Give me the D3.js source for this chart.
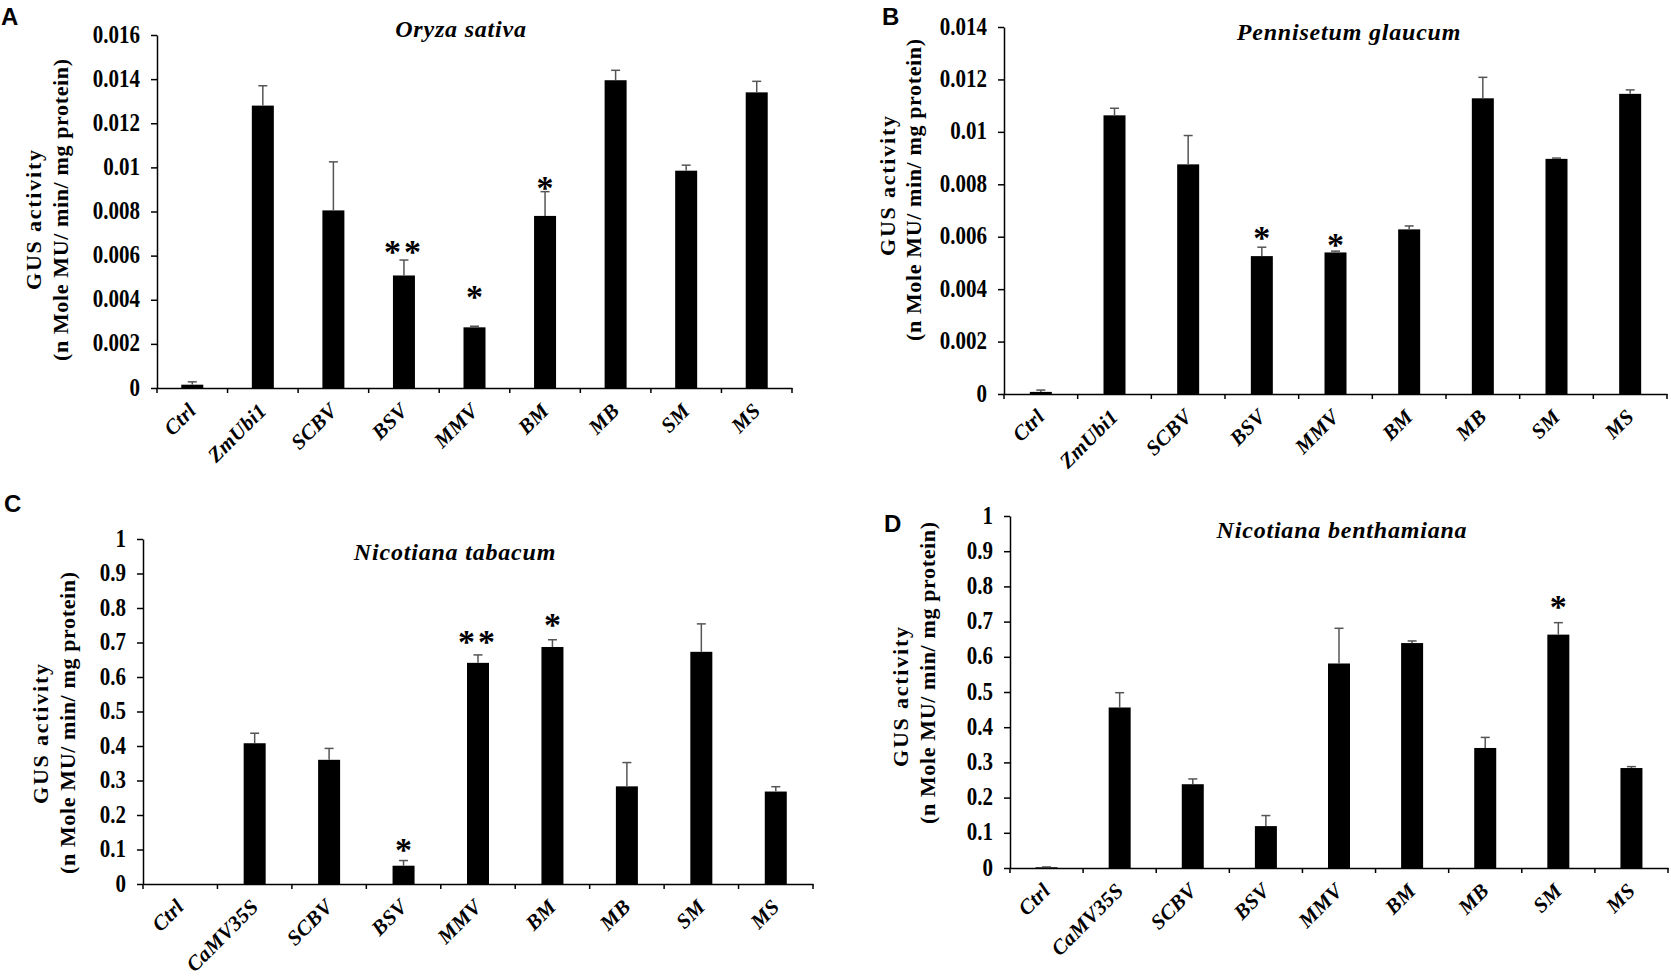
<!DOCTYPE html>
<html>
<head>
<meta charset="utf-8">
<script src="https://cdn.jsdelivr.net/npm/d3@7"></script>
<style>
  body { margin: 0; background: #fff; }
  svg { display: block; }
</style>
</head>
<body>
<div id="chart"></div>
<script>
// categories
const catsAB = ["Ctrl", "ZmUbi1", "SCBV", "BSV", "MMV", "BM", "MB", "SM", "MS"];
const catsCD = ["Ctrl", "CaMV35S", "SCBV", "BSV", "MMV", "BM", "MB", "SM", "MS"];

// A - Oryza sativa
const meanA = [0.00015, 0.0128, 0.00805, 0.0051, 0.00275, 0.0078, 0.01395, 0.00985, 0.0134];
const errA = [0.00013, 0.0009, 0.0022, 0.0007, 0.00005, 0.0011, 0.00045, 0.00025, 0.0005];
const starsA = [["BSV", "**", 0.0064], ["MMV", "*", 0.00435], ["BM", "*", 0.0093]];
const ticksA = [0, 0.002, 0.004, 0.006, 0.008, 0.01, 0.012, 0.014, 0.016];

// B - Pennisetum glaucum
const meanB = [0.00008, 0.01063, 0.00876, 0.00526, 0.0054, 0.00628, 0.01128, 0.00897, 0.01145];
const errB = [0.00007, 0.00027, 0.0011, 0.00034, 0.00005, 0.00013, 0.0008, 0.00003, 0.00015];
const starsB = [["BSV", "*", 0.00614], ["MMV", "*", 0.00588]];
const ticksB = [0, 0.002, 0.004, 0.006, 0.008, 0.01, 0.012, 0.014];

// C - Nicotiana tabacum
const meanC = [0, 0.408, 0.36, 0.053, 0.641, 0.687, 0.283, 0.673, 0.268];
const errC = [0, 0.029, 0.033, 0.015, 0.023, 0.021, 0.069, 0.081, 0.014];
const starsC = [["BSV", "*", 0.113], ["MMV", "**", 0.716], ["BM", "*", 0.765]];
const ticksC = [0, 0.1, 0.2, 0.3, 0.4, 0.5, 0.6, 0.7, 0.8, 0.9, 1];

// D - Nicotiana benthamiana
const meanD = [0.002, 0.456, 0.238, 0.119, 0.581, 0.639, 0.341, 0.663, 0.284];
const errD = [0.001, 0.042, 0.015, 0.03, 0.1, 0.006, 0.03, 0.034, 0.004];
const starsD = [["SM", "*", 0.756]];
const ticksD = [0, 0.1, 0.2, 0.3, 0.4, 0.5, 0.6, 0.7, 0.8, 0.9, 1];

const yLine1 = "GUS activity";
const yLine2 = "(n Mole MU/ min/ mg protein)";

// panel layout (pixels)
const panels = [
  { letter: "A", title: "Oryza sativa", cats: catsAB, means: meanA, errs: errA, stars: starsA, ticks: ticksA,
    x0: 157, x1: 792, yTop: 35, yZero: 388, titleX: 461, titleY: 37, letterX: 1, letterY: 25,
    lab1X: 41, lab2X: 68, lab1Y: 220, lab2Y: 210 },
  { letter: "B", title: "Pennisetum glaucum", cats: catsAB, means: meanB, errs: errB, stars: starsB, ticks: ticksB,
    x0: 1004, x1: 1667, yTop: 27, yZero: 394, titleX: 1349, titleY: 40, letterX: 882, letterY: 25,
    lab1X: 895, lab2X: 921, lab1Y: 186, lab2Y: 190 },
  { letter: "C", title: "Nicotiana tabacum", cats: catsCD, means: meanC, errs: errC, stars: starsC, ticks: ticksC,
    x0: 143, x1: 813, yTop: 539, yZero: 884, titleX: 455, titleY: 560, letterX: 4, letterY: 512,
    lab1X: 48, lab2X: 75, lab1Y: 734, lab2Y: 723 },
  { letter: "D", title: "Nicotiana benthamiana", cats: catsCD, means: meanD, errs: errD, stars: starsD, ticks: ticksD,
    x0: 1010, x1: 1668, yTop: 516, yZero: 868, titleX: 1342, titleY: 538, letterX: 884, letterY: 532,
    lab1X: 908, lab2X: 935, lab1Y: 697, lab2Y: 673 }
];

const serif = "'Liberation Serif', 'Times New Roman', serif";
const barW = 22;

const svg = d3.select("#chart")
  .append("svg")
  .attr("width", 1671)
  .attr("height", 978)
  .style("background", "#fff");

panels.forEach((p) => {
  const g = svg.append("g");

  const x = d3.scaleBand().domain(p.cats).range([p.x0, p.x1]);
  const y = d3.scaleLinear().domain([0, d3.max(p.ticks)]).range([p.yZero, p.yTop]);
  const rows = p.cats.map((c, i) => ({ c: c, v: p.means[i], e: p.errs[i] }));
  const cx = (c) => x(c) + x.bandwidth() / 2;

  // bars
  g.selectAll(".bar")
    .data(rows)
    .join("rect")
    .attr("class", "bar")
    .attr("x", (d) => cx(d.c) - barW / 2)
    .attr("width", barW)
    .attr("y", (d) => y(d.v))
    .attr("height", (d) => y(0) - y(d.v))
    .attr("fill", "#000");

  // error bars (upper only)
  const eb = g.selectAll(".err")
    .data(rows.filter((d) => d.e > 0))
    .join("g")
    .attr("class", "err")
    .attr("stroke", "#555")
    .attr("stroke-width", 1.5);
  eb.append("line")
    .attr("x1", (d) => cx(d.c)).attr("x2", (d) => cx(d.c))
    .attr("y1", (d) => y(d.v)).attr("y2", (d) => y(d.v + d.e));
  eb.append("line")
    .attr("x1", (d) => cx(d.c) - 4.5).attr("x2", (d) => cx(d.c) + 4.5)
    .attr("y1", (d) => y(d.v + d.e)).attr("y2", (d) => y(d.v + d.e));

  // y axis
  const ya = g.append("g")
    .attr("transform", `translate(${p.x0},0)`)
    .call(d3.axisLeft(y).tickValues(p.ticks).tickFormat((d) => String(d)).tickSize(6).tickSizeOuter(0).tickPadding(11));
  ya.selectAll("path, line").attr("stroke", "#000").attr("stroke-width", 1.5);
  ya.selectAll("text")
    .attr("font-family", serif)
    .attr("font-weight", "bold")
    .attr("font-size", 21)
    .attr("dy", "0.28em")
    .attr("transform", "scale(1,1.2)")
    .attr("fill", "#000");

  // x axis
  const xa = g.append("g")
    .attr("transform", `translate(0,${p.yZero})`)
    .call(d3.axisBottom(x).tickSize(0).tickSizeOuter(0).tickFormat(""));
  xa.select(".domain").attr("stroke", "#000").attr("stroke-width", 1.5);
  xa.selectAll(".tick").remove();
  const edges = p.cats.map((c) => x(c)).concat([x.range()[1]]);
  xa.selectAll(".edge")
    .data(edges)
    .join("line")
    .attr("class", "edge")
    .attr("x1", (d) => d).attr("x2", (d) => d)
    .attr("y1", 0).attr("y2", 5)
    .attr("stroke", "#000")
    .attr("stroke-width", 1.5);

  // category labels
  g.selectAll(".cat")
    .data(p.cats)
    .join("text")
    .attr("class", "cat")
    .attr("transform", (d) => `translate(${cx(d) + 5},${p.yZero + 24}) rotate(-45)`)
    .attr("text-anchor", "end")
    .attr("font-family", serif)
    .attr("font-weight", "bold")
    .attr("font-style", "italic")
    .attr("font-size", 21)
    .attr("letter-spacing", 0.3)
    .text((d) => d);

  // significance stars
  g.selectAll(".star")
    .data(p.stars)
    .join("text")
    .attr("class", "star")
    .attr("x", (d) => cx(d[0]))
    .attr("y", (d) => y(d[2]))
    .attr("dy", "0.48em")
    .attr("text-anchor", "middle")
    .attr("font-family", serif)
    .attr("font-weight", "bold")
    .attr("font-size", 34)
    .attr("letter-spacing", (d) => (d[1].length > 1 ? 3 : 0))
    .text((d) => d[1]);

  // title
  g.append("text")
    .attr("x", p.titleX)
    .attr("y", p.titleY)
    .attr("text-anchor", "middle")
    .attr("font-family", serif)
    .attr("font-weight", "bold")
    .attr("font-style", "italic")
    .attr("font-size", 24)
    .attr("letter-spacing", 0.8)
    .text(p.title);

  // y label (two lines)
  g.append("text")
    .attr("transform", `translate(${p.lab1X},${p.lab1Y}) rotate(-90)`)
    .attr("text-anchor", "middle")
    .attr("font-family", serif)
    .attr("font-weight", "bold")
    .attr("font-size", 22)
    .attr("textLength", 140)
    .attr("lengthAdjust", "spacing")
    .text(yLine1);
  g.append("text")
    .attr("transform", `translate(${p.lab2X},${p.lab2Y}) rotate(-90)`)
    .attr("text-anchor", "middle")
    .attr("font-family", serif)
    .attr("font-weight", "bold")
    .attr("font-size", 22)
    .attr("textLength", 302)
    .attr("lengthAdjust", "spacing")
    .text(yLine2);

  // panel letter
  g.append("text")
    .attr("x", p.letterX)
    .attr("y", p.letterY)
    .attr("font-family", "'Liberation Sans', Arial, sans-serif")
    .attr("font-weight", "bold")
    .attr("font-size", 24)
    .text(p.letter);
});
</script>
</body>
</html>
